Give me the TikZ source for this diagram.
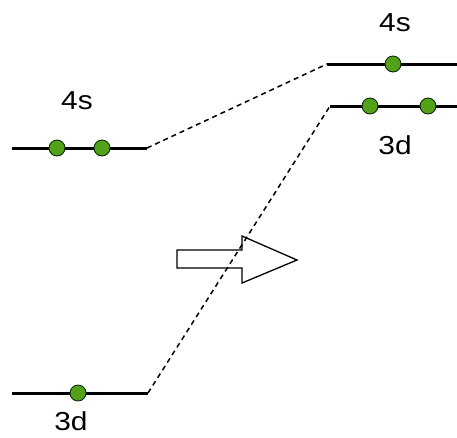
\documentclass[tikz,border=0pt]{standalone}
\usepackage{fontspec}
\setmainfont{Liberation Sans}
\begin{document}
\begin{tikzpicture}[x=1pt,y=-1pt,
  level/.style={line width=3pt},
  electron/.style={circle,draw=black!70!green!40!black,line width=0.8pt,fill=green!45!black!75!yellow!90,minimum size=16pt,inner sep=0pt},
  conn/.style={line width=1.5pt,dash pattern=on 5pt off 4pt},
  lbl/.style={font=\fontsize{26}{26}\selectfont,xscale=1.15,inner sep=0pt},
  blockarrow/.style={draw,line width=1.3pt,fill=white}]
\useasboundingbox (0,0) rectangle (457,437);
% left levels
\coordinate (l4sA) at (12,148);
\coordinate (l4sB) at (147,148);
\coordinate (l3dA) at (12,393);
\coordinate (l3dB) at (148,393);
% right levels
\coordinate (r4sA) at (327,64);
\coordinate (r4sB) at (457,64);
\coordinate (r3dA) at (330,106);
\coordinate (r3dB) at (457,106);
% block arrow
\draw[blockarrow] (177,250) -- (242,250) -- (242,236) -- (297,260) -- (242,283) -- (242,268) -- (177,268) -- cycle;
% connectors
\draw[conn] (l4sB) -- (r4sA);
\draw[conn] (l3dB) -- (r3dA);
% levels
\draw[level] (l4sA) -- (l4sB);
\draw[level] (l3dA) -- (l3dB);
\draw[level] (r4sA) -- (r4sB);
\draw[level] (r3dA) -- (r3dB);
% electrons
\node[electron] (e1) at (57,148) {};
\node[electron] (e2) at (102,148) {};
\node[electron] (e3) at (78,393) {};
\node[electron] (e4) at (393,64) {};
\node[electron] (e5) at (370,106) {};
\node[electron] (e6) at (428,106) {};
% labels
\node[lbl] (t1) at (77,101) {4s};
\node[lbl] (t2) at (71,421) {3d};
\node[lbl] (t3) at (395,23) {4s};
\node[lbl] (t4) at (395,145) {3d};
\end{tikzpicture}
\end{document}
